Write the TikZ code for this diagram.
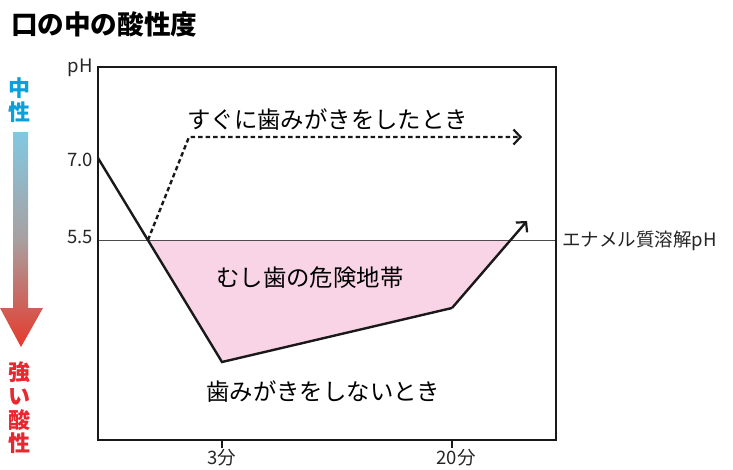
\documentclass[tikz,border=0pt]{standalone}
\usepackage{fontspec}
\setmainfont{Noto Sans CJK JP}
\usetikzlibrary{arrows.meta}
\definecolor{pinkfill}{HTML}{F9D4E6}
\definecolor{neutralblue}{HTML}{0AA0DC}
\definecolor{acidred}{HTML}{E8282E}
\definecolor{gradtop}{HTML}{82C8E2}
\definecolor{gradmid}{HTML}{A8A0A0}
\definecolor{gradbot}{HTML}{E63A2C}
\begin{document}
\begin{tikzpicture}[x=1pt,y=-1pt,
  lbl/.style={inner sep=0pt,font=\fontsize{23.4}{23.4}\selectfont},
  axlbl/.style={inner sep=0pt,font=\fontsize{18.5}{18.5}\selectfont,text=black!85},
  curve/.style={line width=2.4pt,black!90,line join=miter},
  tipbarb/.style={-{Straight Barb[length=7pt,width=15pt,line width=2.2pt]}},
  sidechar/.style={inner sep=0pt,font=\fontsize{22}{22}\selectfont\bfseries}]
\useasboundingbox (0,0) rectangle (733,469);
% title
\node[inner sep=0pt,anchor=west,font=\fontsize{26.6}{26.6}\selectfont\bfseries] (title) at (11,24) {口の中の酸性度};
% coordinates
\coordinate (tl) at (98,67);
\coordinate (br) at (556,440);
\coordinate (p0) at (98,158);
\coordinate (pc) at (148,240);
\coordinate (p1) at (222,362);
\coordinate (p2) at (452,308);
\coordinate (pe) at (510.6,240);
\coordinate (p3) at (527,221);
\coordinate (d1) at (189,137);
\coordinate (d2) at (522,137);
\coordinate (el) at (98,240);
\coordinate (er) at (556,240);
% pink zone
\fill[pinkfill] (pc) -- (p1) -- (p2) -- (pe) -- cycle;
% enamel line
\draw[line width=0.9pt,black!70] (el) -- (er);
% frame
\draw[line width=1.6pt,black!90] (tl) rectangle (br);
% ticks
\coordinate (t3) at (222,440);
\coordinate (t3b) at (222,448);
\coordinate (t20) at (452,440);
\coordinate (t20b) at (452,448);
\draw[line width=1.8pt,black!90] (t3) -- (t3b) (t20) -- (t20b);
% curves
\draw[curve] (p0) -- (p1) -- (p2);
\draw[curve,tipbarb] (p2) -- (p3);
\draw[curve,dash pattern=on 4.5pt off 3pt,tipbarb] (pc) -- (d1) -- (d2);
% labels
\node[lbl,anchor=west] (lnow) at (187,120) {すぐに歯みがきをしたとき};
\node[lbl,anchor=west] (lzone) at (216,278) {むし歯の危険地帯};
\node[lbl,anchor=west] (lnot) at (206,392) {歯みがきをしないとき};
\node[axlbl,anchor=west] (lenamel) at (562,241) {エナメル質溶解pH};
\node[axlbl,anchor=east] (lph) at (93,68) {pH};
\node[axlbl,anchor=east] (l70) at (93,160) {7.0};
\node[axlbl,anchor=east] (l55) at (93,237) {5.5};
\node[axlbl] (l3) at (222,458) {3分};
\node[axlbl] (l20) at (456,458) {20分};
% side gradient arrow
\shade[top color=gradtop,bottom color=gradbot,middle color=gradmid]
  (13,132) -- (28,132) -- (28,308) -- (43,308) -- (21,347) -- (0,308) -- (13,308) -- cycle;
\node[sidechar,text=neutralblue] (n1) at (20,88) {中};
\node[sidechar,text=neutralblue] (n2) at (20,112) {性};
\node[sidechar,text=acidred] (a1) at (20,372) {強};
\node[sidechar,text=acidred] (a2) at (20,397) {い};
\node[sidechar,text=acidred] (a3) at (20,420) {酸};
\node[sidechar,text=acidred] (a4) at (20,443) {性};
\end{tikzpicture}
\end{document}
